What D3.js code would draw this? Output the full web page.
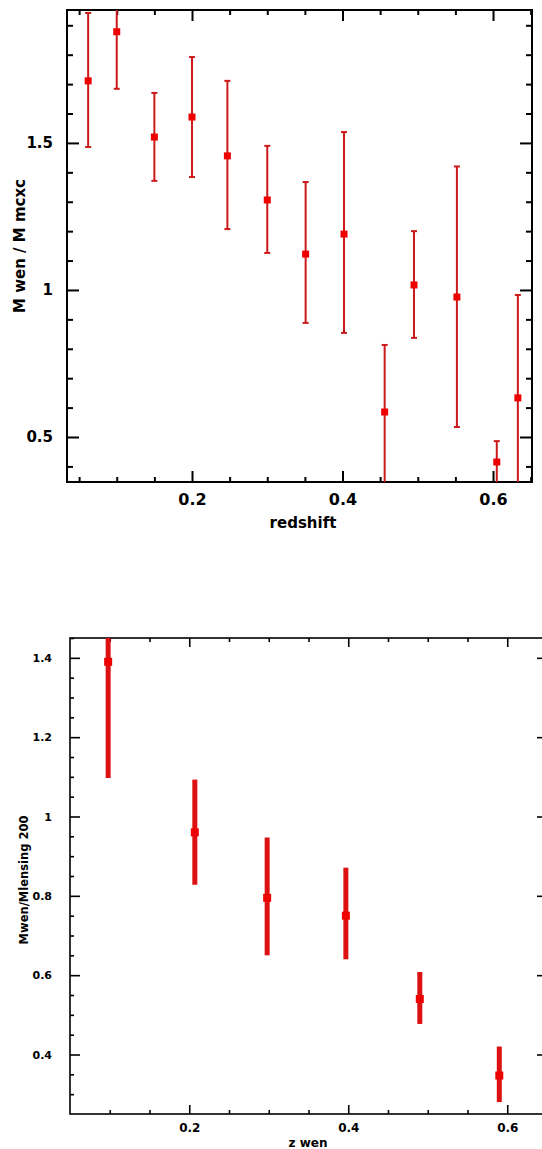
<!DOCTYPE html>
<html>
<head>
<meta charset="utf-8">
<script src="https://cdn.jsdelivr.net/npm/d3@7"></script>
<style>
  body { margin: 0; background: #fff; }
  svg { display: block; }
  text { font-family: "DejaVu Sans", sans-serif; font-weight: bold; fill: #000; }
  .tick line { stroke: #000; }
</style>
</head>
<body>
<div id="chart"></div>
<script>
// ---- data ----
// upper panel: M wen / M mcxc against redshift
var topZ     = [0.062, 0.100, 0.150, 0.200, 0.247, 0.300, 0.351, 0.402, 0.456, 0.495, 0.552, 0.605, 0.633];
var topRatio = [1.711, 1.878, 1.520, 1.588, 1.456, 1.306, 1.122, 1.190, 0.585, 1.017, 0.976, 0.415, 0.633];
var topLow   = [1.486, 1.684, 1.371, 1.384, 1.207, 1.126, 0.888, 0.854, 0.340, 0.837, 0.534, 0.340, 0.280];
var topHigh  = [1.942, 2.070, 1.670, 1.792, 1.711, 1.490, 1.367, 1.537, 0.813, 1.200, 1.420, 0.486, 0.983];

// lower panel: Mwen/Mlensing 200 against z wen
var botZ     = [0.098, 0.207, 0.298, 0.397, 0.490, 0.590];
var botRatio = [1.390, 0.960, 0.795, 0.750, 0.540, 0.347];
var botLow   = [1.097, 0.828, 0.650, 0.640, 0.477, 0.280];
var botHigh  = [1.680, 1.093, 0.947, 0.871, 0.608, 0.420];

// tick labels
var topXTicks = [0.2, 0.4, 0.6];
var topYTicks = [0.5, 1, 1.5];
var botXTicks = [0.2, 0.4, 0.6];
var botYTicks = [0.4, 0.6, 0.8, 1, 1.2, 1.4];

var width = 542, height = 1149;

var svg = d3.select("#chart")
  .append("svg")
    .attr("width", width)
    .attr("height", height);

function minorTicks(lo, hi, step, majors) {
  return d3.range(lo, hi + step / 2, step)
    .map(function(v) { return +v.toFixed(3); })
    .filter(function(v) { return majors.indexOf(v) < 0; });
}

function drawPanel(opt) {
  var x = d3.scaleLinear().domain(opt.xDomain).range([opt.left, opt.right]);
  var y = d3.scaleLinear().domain(opt.yDomain).range([opt.bottom, opt.top]);
  var xMinor = minorTicks(opt.xMinor[0], opt.xMinor[1], opt.xMinor[2], opt.xTicks);
  var yMinor = minorTicks(opt.yMinor[0], opt.yMinor[1], opt.yMinor[2], opt.yTicks);

  var g = svg.append("g");

  // clip the error bars at the frame
  g.append("clipPath").attr("id", opt.id + "-clip")
    .append("rect")
      .attr("x", opt.left).attr("y", opt.top)
      .attr("width", opt.right - opt.left).attr("height", opt.bottom - opt.top);

  // bottom axis
  g.append("g")
    .attr("transform", "translate(0," + opt.bottom + ")")
    .call(d3.axisBottom(x).tickValues(opt.xTicks).tickSize(-opt.majX).tickPadding(opt.xPad)
      .tickFormat(function(d) { return d3.format(".1f")(d); }))
    .call(function(a) { a.select(".domain").remove(); })
    .selectAll("text").style("font-size", opt.xTickFont + "px");
  g.append("g")
    .attr("transform", "translate(0," + opt.bottom + ")")
    .call(d3.axisBottom(x).tickValues(xMinor).tickSize(-opt.minX).tickFormat(""))
    .call(function(a) { a.select(".domain").remove(); });

  // top axis
  g.append("g")
    .attr("transform", "translate(0," + opt.top + ")")
    .call(d3.axisTop(x).tickValues(opt.xTicks).tickSize(-opt.majX).tickFormat(""))
    .call(function(a) { a.select(".domain").remove(); });
  g.append("g")
    .attr("transform", "translate(0," + opt.top + ")")
    .call(d3.axisTop(x).tickValues(xMinor).tickSize(-opt.minX).tickFormat(""))
    .call(function(a) { a.select(".domain").remove(); });

  // left axis
  g.append("g")
    .attr("transform", "translate(" + opt.left + ",0)")
    .call(d3.axisLeft(y).tickValues(opt.yTicks).tickSize(-opt.majY).tickPadding(opt.yPad)
      .tickFormat(opt.yFormat))
    .call(function(a) { a.select(".domain").remove(); })
    .selectAll("text").style("font-size", opt.yTickFont + "px");
  g.append("g")
    .attr("transform", "translate(" + opt.left + ",0)")
    .call(d3.axisLeft(y).tickValues(yMinor).tickSize(-opt.minY).tickFormat(""))
    .call(function(a) { a.select(".domain").remove(); });

  // right axis
  g.append("g")
    .attr("transform", "translate(" + opt.right + ",0)")
    .call(d3.axisRight(y).tickValues(opt.yTicks).tickSize(-opt.majY).tickFormat(""))
    .call(function(a) { a.select(".domain").remove(); });
  g.append("g")
    .attr("transform", "translate(" + opt.right + ",0)")
    .call(d3.axisRight(y).tickValues(yMinor).tickSize(-opt.minY).tickFormat(""))
    .call(function(a) { a.select(".domain").remove(); });

  g.selectAll(".tick line").attr("stroke-width", opt.frameWidth);

  // frame
  g.append("rect")
    .attr("x", opt.left).attr("y", opt.top)
    .attr("width", opt.right - opt.left).attr("height", opt.bottom - opt.top)
    .attr("fill", "none").attr("stroke", "#000").attr("stroke-width", opt.frameWidth);

  var marks = g.append("g").attr("clip-path", "url(#" + opt.id + "-clip)");

  // error bars
  marks.selectAll(".err")
    .data(opt.z)
    .enter()
    .append("line")
      .attr("x1", function(d) { return x(d); })
      .attr("x2", function(d) { return x(d); })
      .attr("y1", function(d, i) { return y(opt.low[i]); })
      .attr("y2", function(d, i) { return y(opt.high[i]); })
      .attr("stroke", opt.barColor)
      .attr("stroke-width", opt.barWidth);

  // caps
  if (opt.capWidth > 0) {
    [opt.low, opt.high].forEach(function(arr) {
      marks.selectAll(null)
        .data(opt.z)
        .enter()
        .append("line")
          .attr("x1", function(d) { return x(d) - opt.capWidth / 2; })
          .attr("x2", function(d) { return x(d) + opt.capWidth / 2; })
          .attr("y1", function(d, i) { return y(arr[i]); })
          .attr("y2", function(d, i) { return y(arr[i]); })
          .attr("stroke", opt.barColor)
          .attr("stroke-width", 2);
    });
  }

  // squares
  marks.selectAll(".pt")
    .data(opt.z)
    .enter()
    .append("rect")
      .attr("x", function(d) { return x(d) - opt.sq / 2; })
      .attr("y", function(d, i) { return y(opt.ratio[i]) - opt.sq / 2; })
      .attr("width", opt.sq)
      .attr("height", opt.sq)
      .attr("fill", "#ee0000");

  // axis titles
  svg.append("text")
    .attr("x", opt.xTitlePos[0]).attr("y", opt.xTitlePos[1])
    .attr("text-anchor", "middle")
    .style("font-size", opt.titleFont + "px")
    .text(opt.xTitle);

  svg.append("text")
    .attr("transform", "translate(" + opt.yTitlePos[0] + "," + opt.yTitlePos[1] + ") rotate(-90)")
    .attr("text-anchor", "middle")
    .style("font-size", opt.yTitleFont + "px")
    .text(opt.yTitle);
}

drawPanel({
  id: "upper",
  left: 67, right: 532, top: 10, bottom: 482,
  xDomain: [0.0339, 0.6518], yDomain: [0.347, 1.952],
  xTicks: topXTicks, yTicks: topYTicks,
  xMinor: [0.05, 0.65, 0.05], yMinor: [0.4, 1.9, 0.1],
  majX: 11, minX: 5, majY: 12, minY: 6,
  xPad: 12, yPad: 14, xTickFont: 16, yTickFont: 15,
  yFormat: function(d) { return d === 1 ? "1" : d3.format(".1f")(d); },
  frameWidth: 2,
  z: topZ, ratio: topRatio, low: topLow, high: topHigh,
  barColor: "#cc1a1a", barWidth: 2, capWidth: 6, sq: 7,
  xTitle: "redshift", xTitlePos: [303, 528], titleFont: 15,
  yTitle: "M wen / M mcxc", yTitlePos: [25, 246], yTitleFont: 15
});

drawPanel({
  id: "lower",
  left: 70, right: 547, top: 638, bottom: 1114,
  xDomain: [0.05, 0.65], yDomain: [0.25, 1.45],
  xTicks: botXTicks, yTicks: botYTicks,
  xMinor: [0.1, 0.65, 0.05], yMinor: [0.3, 1.45, 0.05],
  majX: 9, minX: 4, majY: 10, minY: 4,
  xPad: 9, yPad: 18, xTickFont: 12, yTickFont: 11,
  yFormat: function(d) { return d === 1 ? "1" : d3.format(".1f")(d); },
  frameWidth: 1.6,
  z: botZ, ratio: botRatio, low: botLow, high: botHigh,
  barColor: "#dd1111", barWidth: 5, capWidth: 0, sq: 8,
  xTitle: "z wen", xTitlePos: [308, 1147], titleFont: 12,
  yTitle: "Mwen/Mlensing 200", yTitlePos: [28, 880], yTitleFont: 11.5
});
</script>
</body>
</html>
